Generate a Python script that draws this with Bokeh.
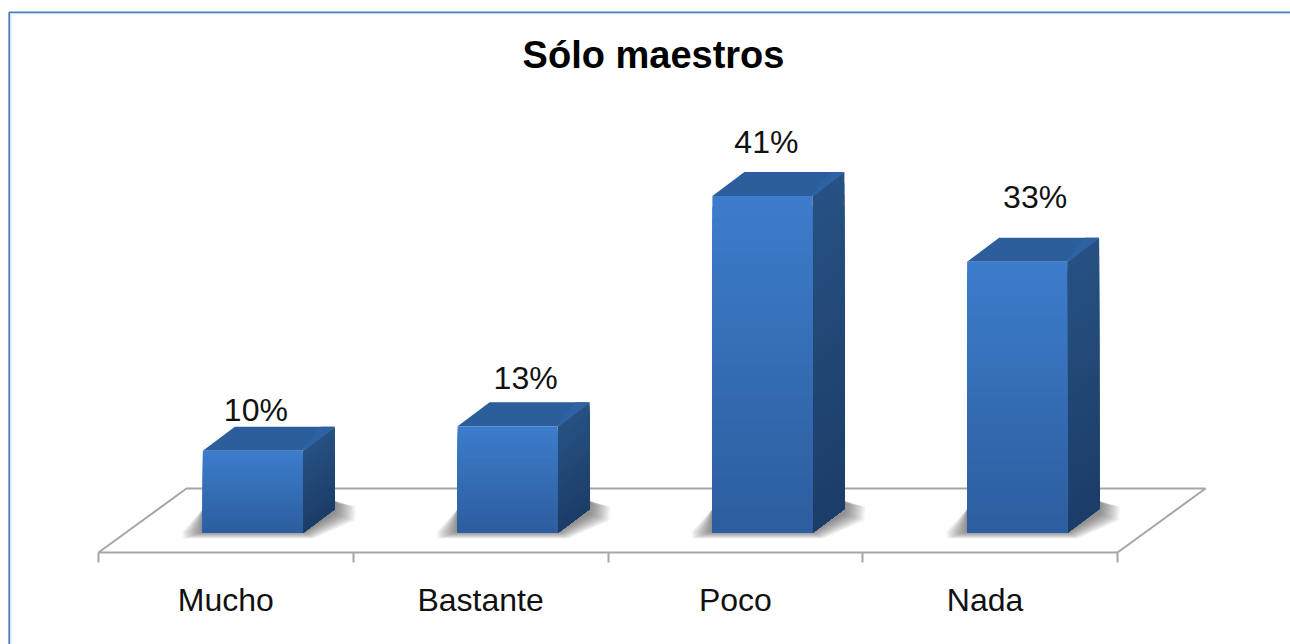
from bokeh.embed import file_html
from bokeh.resources import INLINE
from bokeh.plotting import figure
from bokeh.models import LinearAxis, FixedTicker, Label, Range1d, ColumnDataSource
from bokeh.core.properties import value as fontvalue

categories = ["Mucho", "Bastante", "Poco", "Nada"]
values = [10, 13, 41, 33]
value_labels = ["10%", "13%", "41%", "33%"]
chart_title = "Sólo maestros"

# layout scale: pixels per unit on each axis
PX_X = 254.75
PX_Y = 8.22
W, H = 1290, 644
sx = 1 / PX_X
sy = 1 / PX_Y
ORIGIN_X = 98   # canvas pixel of x = 0
ORIGIN_Y = 532.5  # canvas pixel of y = 0


def cx(px):
    return (px - ORIGIN_X) * sx


def cy(py):
    return (ORIGIN_Y - py) * sy


FONT = "Liberation Sans"
BAR_W = 100 * sx
BAR_SHIFT = 0.606          # bar centre inside its category slot
DX = 32 * sx               # 3-D depth
DY = 24 * sy
FLOOR_FRONT = cy(552)
FLOOR_BACK = cy(488)
FLOOR_DX = 88 * sx
GREY = "#a6a6a6"

label_dx = [3, 18, 4, 18]  # label offsets from the front face centre, px
label_dy = [-41, -48, -54, -65]
label_slots = [0.5, 1.5, 2.5, 3.48]  # where category names sit along the axis


def mix(a, b, t):
    return "#%02x%02x%02x" % tuple(round(a[i] + (b[i] - a[i]) * t) for i in range(3))


FRONT_TOP, FRONT_BOT = (60, 124, 203), (44, 93, 157)
SIDE_TOP, SIDE_BOT = (38, 81, 130), (28, 60, 103)
TOP_FACE = "#2b5e9b"
TOP_EDGE = "#2d63a4"

p = figure(width=W, height=H, output_backend="svg", toolbar_location=None,
           x_axis_location=None, y_axis_location=None,
           x_range=Range1d(cx(0), cx(W)),
           y_range=Range1d(cy(H), cy(0)),
           min_border=0, outline_line_color=None, background_fill_color="white")
p.xgrid.visible = False
p.ygrid.visible = False

# slide border
p.line(x=[cx(8.7), cx(8.7), cx(W)], y=[cy(H), cy(11.8), cy(11.8)],
       line_color="#4a7ebb", line_width=1.7)
p.line(x=[cx(10.4), cx(10.4), cx(W)], y=[cy(H), cy(13.2), cy(13.2)],
       line_color="#c6d9f1", line_width=1)

# floor
n = len(categories)
p.multi_line(xs=[[0, FLOOR_DX, n + FLOOR_DX, n]],
             ys=[[FLOOR_FRONT, FLOOR_BACK, FLOOR_BACK, FLOOR_FRONT]],
             line_color=GREY, line_width=2)

tick_axis = LinearAxis(fixed_location=FLOOR_FRONT, bounds=(0, n),
                       ticker=FixedTicker(ticks=list(range(n + 1))),
                       axis_line_color=GREY, axis_line_width=2,
                       major_tick_line_color=GREY, major_tick_line_width=2,
                       major_tick_in=0, major_tick_out=10,
                       minor_tick_line_color=None, major_label_text_font_size="0px",
                       major_label_text_color=None)
p.add_layout(tick_axis, "below")

label_axis = LinearAxis(fixed_location=FLOOR_FRONT,
                        ticker=FixedTicker(ticks=label_slots),
                        major_label_overrides=dict(zip(label_slots, categories)),
                        axis_line_color=None, major_tick_line_color=None,
                        minor_tick_line_color=None, major_tick_in=0, major_tick_out=0,
                        major_label_standoff=29,
                        major_label_text_font=FONT, major_label_text_font_size="32px",
                        major_label_text_color="#111111")
p.add_layout(label_axis, "below")

# bars
STEPS = 30
LAYERS = 12
for i, v in enumerate(values):
    x0 = i + BAR_SHIFT - BAR_W / 2
    x1 = x0 + BAR_W
    # soft floor shadow
    for g in range(LAYERS):
        e = (LAYERS - 1 - g) * 1.7
        p.patch(x=[x0 - (2 + e) * sx, x0 - (1 + e) * sx, x1 + (1 + e * 0.5) * sx,
                   x1 + DX + (1 + e) * sx, x1 + DX + (2 + e) * sx, x1 + DX, x0],
                y=[1 * sy, (1 - e * 0.35) * sy, (1 - e * 0.35) * sy,
                   DY - (5 + e * 0.35) * sy, DY + (5 - e * 0.15) * sy, DY + 8 * sy, DY],
                fill_color="#303030", fill_alpha=0.06, line_color=None)
    # right side face
    for s in range(STEPS):
        t = s / STEPS
        top = v * (1 - t)
        p.patch(x=[x1, x1 + DX, x1 + DX, x1],
                y=[top, top + DY, DY, 0],
                fill_color=mix(SIDE_TOP, SIDE_BOT, t), line_color=None)
    # top face
    p.patch(x=[x0, x0 + DX, x1 + DX, x1],
            y=[v, v + DY, v + DY, v], fill_color=TOP_FACE, line_color=None)
    p.patch(x=[x1 - 1 * sx, x1 + DX - 14 * sx, x1 + DX, x1 + 3 * sx],
            y=[v + 1 * sy, v + DY, v + DY, v + 1 * sy], fill_color=TOP_EDGE, line_color=None)
    # front face
    for s in range(STEPS):
        t = s / STEPS
        p.quad(left=x0, right=x1, bottom=0, top=v * (1 - t),
               fill_color=mix(FRONT_TOP, FRONT_BOT, t), line_color=None)

# value labels
src = ColumnDataSource(dict(
    x=[i + BAR_SHIFT for i in range(n)], y=values, text=value_labels,
    xo=label_dx, yo=label_dy))
p.text(x="x", y="y", text="text", x_offset="xo", y_offset="yo", source=src,
       text_font=fontvalue(FONT), text_font_size="32px", text_color="#111111",
       text_align="center", text_baseline="middle")

# title
p.add_layout(Label(x=cx(653), y=cy(54), text=chart_title,
                   text_font=FONT, text_font_size="38px", text_font_style="bold",
                   text_color="#000000", text_align="center", text_baseline="middle"))

open("out.html", "w").write(file_html(p, INLINE))
